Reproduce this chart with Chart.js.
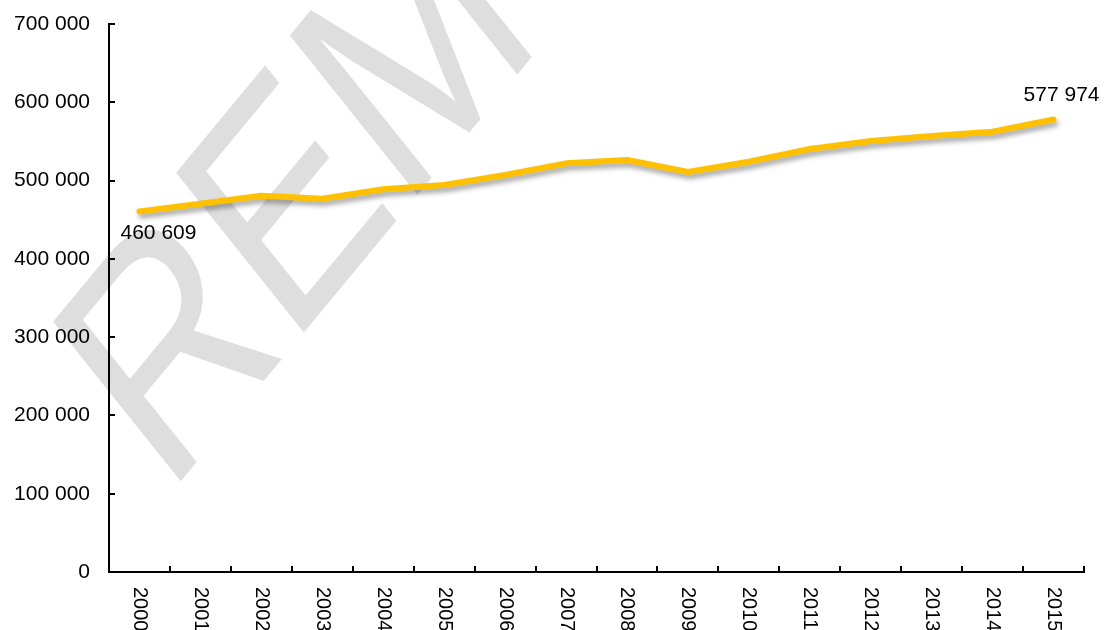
<!DOCTYPE html>
<html>
<head>
<meta charset="utf-8">
<script src="https://cdn.jsdelivr.net/npm/chart.js@4/dist/chart.umd.min.js"></script>
<style>
  body { margin: 0; background: #fff; }
  #wrap { width: 1108px; height: 630px; }
</style>
</head>
<body>
<div id="wrap"><canvas id="trend" width="1108" height="630"></canvas></div>
<script>
// data
const years = ['2000', '2001', '2002', '2003', '2004', '2005', '2006', '2007',
               '2008', '2009', '2010', '2011', '2012', '2013', '2014', '2015'];
const values = [460609, 470500, 480700, 476800, 488800, 494300, 507100, 522000,
                526300, 510900, 524100, 540300, 550600, 556900, 562400, 577974];
const yTicks = [0, 100000, 200000, 300000, 400000, 500000, 600000, 700000];
const labelledPoints = [0, 15];
const watermarkText = 'REM';

const FONT = '"Liberation Sans", Arial, sans-serif';
const fmt = v => String(v).replace(/\B(?=(\d{3})+(?!\d))/g, ' ');

// big grey stamp behind the chart
const watermark = {
    id: 'watermark',
    beforeDraw(chart) {
        const ctx = chart.ctx;
        ctx.save();
        ctx.setTransform(0.574, -0.694, 0.625, 0.781, 166.8, 498.2);
        ctx.font = '297px ' + FONT;
        ctx.fillStyle = '#dedede';
        ctx.textBaseline = 'alphabetic';
        ctx.fillText(watermarkText, 0, 0);
        ctx.restore();
    }
};

// soft shadow under the line
const lineShadow = {
    id: 'lineShadow',
    beforeDatasetsDraw(chart) {
        const ctx = chart.ctx;
        ctx.save();
        ctx.shadowColor = 'rgba(0,0,0,0.35)';
        ctx.shadowBlur = 5;
        ctx.shadowOffsetX = 2;
        ctx.shadowOffsetY = 4;
    },
    afterDatasetsDraw(chart) {
        chart.ctx.restore();
    }
};

// inward tick marks, rotated year labels, end value labels
const axisExtras = {
    id: 'axisExtras',
    afterDraw(chart) {
        const ctx = chart.ctx;
        const x = chart.scales.x, y = chart.scales.y;
        const area = chart.chartArea;
        ctx.save();
        ctx.strokeStyle = '#000';
        ctx.lineWidth = 2;
        ctx.beginPath();
        yTicks.forEach(v => {
            const py = Math.round(y.getPixelForValue(v));
            ctx.moveTo(area.left, py);
            ctx.lineTo(area.left + 6, py);
        });
        const half = (x.getPixelForValue(1) - x.getPixelForValue(0)) / 2;
        for (let i = 0; i <= years.length; i++) {
            const px = Math.round(x.getPixelForValue(i) - half);
            ctx.moveTo(px, area.bottom);
            ctx.lineTo(px, area.bottom - 6);
        }
        ctx.stroke();

        ctx.fillStyle = '#000';
        ctx.font = '20px ' + FONT;
        ctx.textAlign = 'left';
        ctx.textBaseline = 'middle';
        years.forEach((yr, i) => {
            ctx.save();
            ctx.translate(x.getPixelForValue(i), area.bottom + 15);
            ctx.rotate(Math.PI / 2);
            ctx.fillText(yr, 0, 0);
            ctx.restore();
        });

        const pts = chart.getDatasetMeta(0).data;
        ctx.font = '21px ' + FONT;
        ctx.textAlign = 'center';
        labelledPoints.forEach(i => {
            const p = pts[i];
            const dx = i === 0 ? 19 : 8;
            const dy = i === 0 ? 22 : -24;
            ctx.fillText(fmt(values[i]), p.x + dx, p.y + dy);
        });
        ctx.restore();
    }
};

new Chart(document.getElementById('trend').getContext('2d'), {
    type: 'line',
    data: {
        labels: years,
        datasets: [{
            data: values,
            borderColor: '#ffc000',
            borderWidth: 6,
            pointRadius: 0,
            tension: 0,
            borderCapStyle: 'round',
            borderJoinStyle: 'round',
            fill: false
        }]
    },
    options: {
        responsive: false,
        animation: false,
        layout: { padding: { top: 24, right: 24, bottom: 58, left: 0 } },
        plugins: { legend: { display: false }, tooltip: { enabled: false } },
        scales: {
            x: {
                offset: true,
                grid: { display: false, drawTicks: false },
                border: { display: true, color: '#000', width: 2 },
                ticks: { display: false }
            },
            y: {
                min: 0,
                max: 700000,
                grid: { display: false, drawTicks: false },
                border: { display: true, color: '#000', width: 2 },
                afterBuildTicks: axis => { axis.ticks = yTicks.map(v => ({ value: v })); },
                afterFit: axis => {
                    axis.width = 109;
                    axis.paddingTop = 0;
                    axis.paddingBottom = 0;
                },
                ticks: {
                    padding: 19,
                    color: '#000',
                    font: { family: FONT, size: 21 },
                    callback: v => fmt(v)
                }
            }
        }
    },
    plugins: [watermark, lineShadow, axisExtras]
});
</script>
</body>
</html>
